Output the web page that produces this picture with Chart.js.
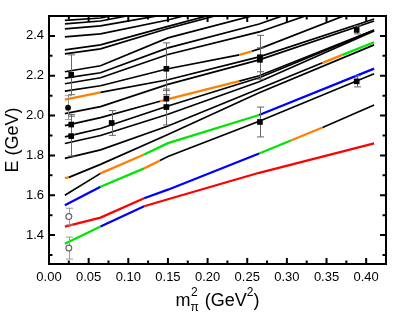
<!DOCTYPE html>
<html>
<head>
<meta charset="utf-8">
<script src="https://cdn.jsdelivr.net/npm/chart.js@4.4.0/dist/chart.umd.min.js"></script>
<style>
  html, body { margin: 0; padding: 0; background: #fff; }
  canvas { display: block; }
</style>
</head>
<body>
<canvas id="myChart" width="415" height="319"></canvas>
<script>
// energy levels, each curve as [m_pi^2, E] nodes
const level1 = [[0.02, 1.357], [0.065, 1.443], [0.12, 1.545], [0.15, 1.58], [0.265, 1.713], [0.41, 1.86]];
const level2 = [[0.02, 1.443], [0.065, 1.488], [0.12, 1.585], [0.15, 1.628], [0.265, 1.81], [0.305, 1.875], [0.345, 1.94], [0.41, 2.053]];
const level3 = [[0.02, 1.55], [0.065, 1.643], [0.12, 1.735], [0.14, 1.775], [0.15, 1.795], [0.265, 1.972], [0.41, 2.21]];
const level4 = [[0.02, 1.6], [0.065, 1.71], [0.12, 1.805], [0.15, 1.862], [0.265, 2.003], [0.41, 2.236]];
const level5 = [[0.02, 1.686], [0.025, 1.69], [0.065, 1.755], [0.15, 1.905], [0.265, 2.115], [0.41, 2.355]];
const level6 = [[0.02, 1.785], [0.065, 1.828], [0.15, 1.948], [0.265, 2.135], [0.345, 2.265], [0.37, 2.305], [0.41, 2.368]];
const level7 = [[0.02, 1.86], [0.065, 1.9], [0.15, 2.007], [0.265, 2.17], [0.41, 2.425]];
const level8 = [[0.02, 1.893], [0.065, 1.935], [0.15, 2.048], [0.265, 2.19], [0.41, 2.428]];
const level9 = [[0.02, 1.95], [0.065, 1.99], [0.14, 2.072], [0.15, 2.083], [0.24, 2.173], [0.265, 2.2], [0.41, 2.43]];
const level10 = [[0.02, 2.01], [0.065, 2.045], [0.15, 2.157], [0.265, 2.28], [0.41, 2.475]];
const level11 = [[0.02, 2.08], [0.065, 2.117], [0.15, 2.18], [0.265, 2.295], [0.41, 2.485]];
const level12 = [[0.02, 2.123], [0.065, 2.15], [0.15, 2.235], [0.24, 2.305], [0.256, 2.323], [0.265, 2.335], [0.41, 2.56]];
const level13 = [[0.02, 2.16], [0.065, 2.19], [0.15, 2.307], [0.265, 2.42], [0.41, 2.62]];
const level14 = [[0.02, 2.188], [0.065, 2.215], [0.15, 2.34], [0.265, 2.46], [0.41, 2.66]];
const level15 = [[0.02, 2.22], [0.065, 2.25], [0.15, 2.39], [0.265, 2.51], [0.41, 2.7]];
const level16 = [[0.02, 2.31], [0.065, 2.335], [0.15, 2.437], [0.265, 2.56]];
const level17 = [[0.02, 2.33], [0.065, 2.355], [0.15, 2.448], [0.265, 2.57]];
const level18 = [[0.02, 2.395], [0.065, 2.41], [0.15, 2.48], [0.265, 2.6]];
const level19 = [[0.02, 2.435], [0.065, 2.45], [0.15, 2.51]];
const level20 = [[0.02, 2.46], [0.065, 2.475], [0.15, 2.54]];
const level21 = [[0.02, 2.478], [0.065, 2.49], [0.15, 2.56]];

const levels = [level1, level2, level3, level4, level5, level6, level7, level8, level9, level10,
  level11, level12, level13, level14, level15, level16, level17, level18, level19, level20, level21];

// colour of every piece between two nodes: k black, r red, g green, b blue, o orange
const levelColours = ["gbrrr", "rrbbgok", "bgokkk", "koggb", "okkkk", "kkkkog", "kkkk", "kkkk",
  "kkookk", "kkkk", "okkk", "kkkokk", "kkkk", "kkkk", "kkkk", "kkk", "kkk", "kkk", "kk", "kk", "kk"];

// lattice results
const latticeX = [0.028, 0.028, 0.028, 0.079, 0.148, 0.148, 0.148, 0.266, 0.266, 0.266, 0.388, 0.388];
const latticeE = [2.205, 1.955, 1.897, 1.963, 2.235, 2.085, 2.043, 2.293, 2.28, 1.968, 2.43, 2.172];
const latticeErr = [0.1, 0.05, 0.1, 0.062, 0.13, 0.04, 0.09, 0.11, 0.06, 0.075, 0.02, 0.028];

const dotX = [0.024];
const dotE = [2.04];
const dotErr = [0.06];

const openX = [0.025, 0.025];
const openE = [1.493, 1.335];
const openErr = [0.042, 0.055];

const xTickValues = [0, 0.05, 0.1, 0.15, 0.2, 0.25, 0.3, 0.35, 0.4];
const xMinorValues = [0.025, 0.075, 0.125, 0.175, 0.225, 0.275, 0.325, 0.375];
const yTickValues = [1.4, 1.6, 1.8, 2.0, 2.2, 2.4];
const yMinorValues = [1.3, 1.5, 1.7, 1.9, 2.1, 2.3];

const colourOf = { k: "#000000", r: "#ff0000", g: "#00e600", b: "#0000ff", o: "#ff8000" };
const font = "'Liberation Sans', Arial, sans-serif";

const levelSets = levels.map((pts, i) => ({
  type: "line",
  data: pts.map(p => ({ x: p[0], y: p[1] })),
  borderColor: "#000",
  borderWidth: 1.7,
  pointRadius: 0,
  tension: 0,
  clip: 0,
  segment: {
    borderColor: c => colourOf[levelColours[i][c.p0DataIndex]],
    borderWidth: c => (levelColours[i][c.p0DataIndex] === "k" ? 1.7 : 2.3),
  },
}));

const pointSets = [
  {
    type: "scatter",
    data: latticeX.map((x, i) => ({ x: x, y: latticeE[i] })),
    errors: latticeErr,
    errorColour: "#666",
    pointStyle: "rect",
    pointRadius: 4,
    backgroundColor: "#000",
    borderColor: "#000",
    borderWidth: 0,
  },
  {
    type: "scatter",
    data: dotX.map((x, i) => ({ x: x, y: dotE[i] })),
    errors: dotErr,
    errorColour: "#999",
    pointStyle: "circle",
    pointRadius: 2.9,
    backgroundColor: "#000",
    borderColor: "#000",
    borderWidth: 0,
  },
  {
    type: "scatter",
    data: openX.map((x, i) => ({ x: x, y: openE[i] })),
    errors: openErr,
    errorColour: "#999",
    pointStyle: "circle",
    pointRadius: 2.9,
    backgroundColor: "#fff",
    borderColor: "#666",
    borderWidth: 1.2,
  },
];

// vertical error bars with caps, drawn just under their markers
const errorBars = {
  id: "errorBars",
  beforeDatasetDraw(chart, args) {
    const ds = chart.data.datasets[args.index];
    if (!ds.errors) return;
    const x = chart.scales.x, y = chart.scales.y, ctx = chart.ctx;
    ctx.save();
    ctx.strokeStyle = ds.errorColour;
    ctx.lineWidth = 1;
    ds.data.forEach((p, i) => {
      const px = Math.round(x.getPixelForValue(p.x)) + 0.5;
      const top = y.getPixelForValue(p.y + ds.errors[i]);
      const bot = y.getPixelForValue(p.y - ds.errors[i]);
      ctx.beginPath();
      ctx.moveTo(px, top);
      ctx.lineTo(px, bot);
      ctx.moveTo(px - 3.5, top);
      ctx.lineTo(px + 3.5, top);
      ctx.moveTo(px - 3.5, bot);
      ctx.lineTo(px + 3.5, bot);
      ctx.stroke();
    });
    ctx.restore();
  },
};

// box, inward ticks on all four sides and the axis titles
const frame = {
  id: "frame",
  afterDraw(chart) {
    const { ctx, chartArea: a, scales: { x, y } } = chart;
    ctx.save();
    ctx.strokeStyle = "#000";
    ctx.lineWidth = 2;
    ctx.beginPath();
    const xMarks = xTickValues.map(v => [v, 6]).concat(xMinorValues.map(v => [v, 3.5]));
    xMarks.forEach(([v, len]) => {
      const px = x.getPixelForValue(v);
      ctx.moveTo(px, a.bottom);
      ctx.lineTo(px, a.bottom - len);
      ctx.moveTo(px, a.top);
      ctx.lineTo(px, a.top + len);
    });
    const yMarks = yTickValues.map(v => [v, 6]).concat(yMinorValues.map(v => [v, 3.5]));
    yMarks.forEach(([v, len]) => {
      const py = y.getPixelForValue(v);
      ctx.moveTo(a.left, py);
      ctx.lineTo(a.left + len, py);
      ctx.moveTo(a.right, py);
      ctx.lineTo(a.right - len, py);
    });
    ctx.stroke();
    ctx.strokeRect(a.left, a.top, a.right - a.left, a.bottom - a.top);

    ctx.fillStyle = "#000";
    // x title: m_pi^2 (GeV^2)
    ctx.textBaseline = "alphabetic";
    ctx.textAlign = "left";
    const big = "18px " + font, small = "12px " + font;
    ctx.font = big;
    const wm = ctx.measureText("m").width;
    const wg = ctx.measureText(" (GeV").width;
    const wc = ctx.measureText(")").width;
    ctx.font = small;
    const w2 = ctx.measureText("2").width;
    const wpi = ctx.measureText("π").width;
    const ws = Math.max(w2, wpi) + 1;
    const total = wm + ws + wg + w2 + wc;
    const base = 306;
    let cx = (a.left + a.right) / 2 - total / 2;
    ctx.font = big;
    ctx.fillText("m", cx, base);
    ctx.font = small;
    ctx.fillText("2", cx + wm + 0.5, base - 10);
    ctx.fillText("π", cx + wm, base + 5);
    cx += wm + ws;
    ctx.font = big;
    ctx.fillText(" (GeV", cx, base);
    cx += wg;
    ctx.font = small;
    ctx.fillText("2", cx, base - 10);
    cx += w2;
    ctx.font = big;
    ctx.fillText(")", cx, base);

    // y title
    ctx.translate(13, (a.top + a.bottom) / 2);
    ctx.rotate(-Math.PI / 2);
    ctx.textAlign = "center";
    ctx.textBaseline = "middle";
    ctx.font = big;
    ctx.fillText("E (GeV)", 0, 0);
    ctx.restore();
  },
};

const ctx = document.getElementById("myChart").getContext("2d");
const chart = new Chart(ctx, {
  type: "line",
  data: { datasets: pointSets.concat(levelSets) },
  options: {
    responsive: false,
    animation: false,
    devicePixelRatio: 1,
    layout: { padding: { top: 16, right: 29, left: 0, bottom: 0 } },
    plugins: { legend: { display: false }, tooltip: { enabled: false } },
    scales: {
      x: {
        type: "linear",
        min: 0,
        max: 0.425,
        grid: { display: false, drawTicks: false },
        border: { display: false },
        afterBuildTicks: s => { s.ticks = xTickValues.map(v => ({ value: v })); },
        afterFit: s => { s.height = 55; },
        ticks: {
          color: "#000",
          padding: 6,
          maxRotation: 0,
          font: { family: font, size: 13 },
          callback: v => v.toFixed(2),
        },
      },
      y: {
        type: "linear",
        min: 1.255,
        max: 2.5,
        grid: { display: false, drawTicks: false },
        border: { display: false },
        afterBuildTicks: s => { s.ticks = yTickValues.map(v => ({ value: v })); },
        afterFit: s => { s.width = 49; },
        ticks: {
          color: "#000",
          padding: 5,
          font: { family: font, size: 13 },
          callback: v => v.toFixed(1),
        },
      },
    },
  },
  plugins: [errorBars, frame],
});
</script>
</body>
</html>
